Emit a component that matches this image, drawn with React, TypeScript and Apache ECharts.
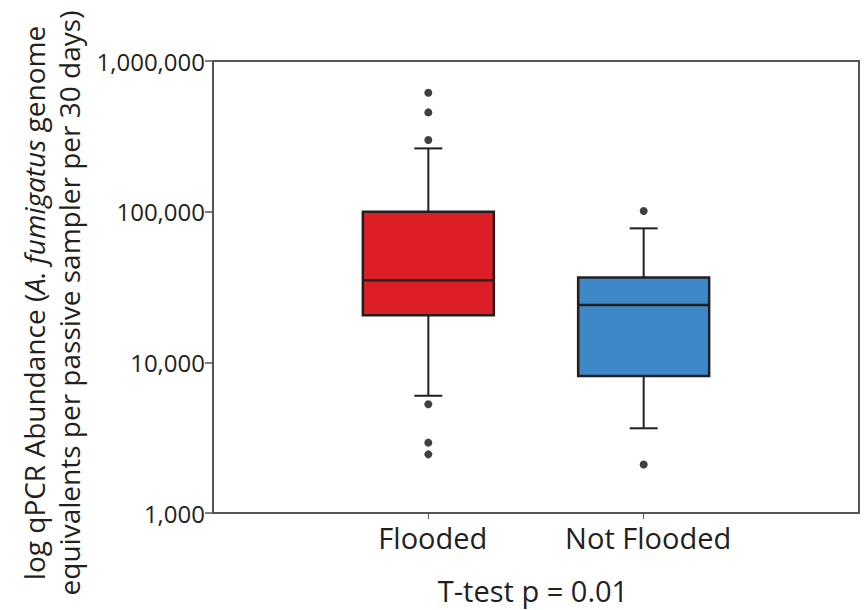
import React, { useEffect, useRef } from "react";
import * as echarts from "echarts";

const categories = ["", "Flooded", "Not Flooded", ""];
// [categoryIndex, min(whisker), Q1, median, Q3, max(whisker)]
const boxStats = [
  [1, 6000, 20500, 35000, 100000, 263000],
  [2, 3650, 8100, 24000, 36500, 77500],
];
const floodedOutliers = [616000, 456000, 299000, 5270, 2930, 2450];
const notFloodedOutliers = [101000, 2100];
const yTicks = [1000, 10000, 100000, 1000000];
const boxColors = ["#DC1F26", "#3F88C8"];

const FONT = "'Open Sans', sans-serif";
const TEXT = "#231f20";
const LINE = "#231f20";
const FRAME = "#555555";

export default function App() {
  const ref = useRef<HTMLDivElement>(null);
  useEffect(() => {
    if (!ref.current) return;
    const chart = echarts.init(ref.current, undefined, { renderer: "svg" });
    const outlierData = [
      ...floodedOutliers.map((v) => [1, v]),
      ...notFloodedOutliers.map((v) => [2, v]),
    ];
    chart.setOption({
      animation: false,
      grid: {
        left: 213,
        top: 61,
        right: 5,
        bottom: 97,
        show: true,
        borderColor: FRAME,
        borderWidth: 2,
        backgroundColor: "transparent",
      },
      xAxis: {
        type: "category",
        data: categories,
        boundaryGap: false,
        axisLine: { lineStyle: { color: FRAME, width: 2 } },
        axisTick: {
          length: 6,
          interval: (i: number) => i === 1 || i === 2,
          lineStyle: { color: FRAME, width: 1 },
        },
        axisLabel: {
          interval: 0,
          margin: 10,
          fontSize: 29,
          fontFamily: FONT,
          color: TEXT,
          padding: [0, 0, 0, 9],
        },
        splitLine: { show: false },
        name: "T-test p = 0.01",
        nameLocation: "middle",
        nameGap: 63,
        nameTextStyle: { fontSize: 29, fontFamily: FONT, color: TEXT, padding: [0, 6, 0, 0] },
      },
      yAxis: {
        type: "log",
        logBase: 10,
        min: yTicks[0],
        max: yTicks[yTicks.length - 1],
        axisLine: { show: true, lineStyle: { color: FRAME, width: 2 } },
        axisTick: { show: true, length: 8, lineStyle: { color: FRAME, width: 1.5 } },
        minorTick: { show: false },
        splitLine: { show: false },
        axisLabel: {
          margin: 8,
          fontSize: 24,
          fontFamily: FONT,
          color: TEXT,
          formatter: (v: number) => Math.round(v).toLocaleString("en-US"),
        },
      },
      graphic: [
        {
          type: "text",
          x: 51,
          y: 303,
          rotation: Math.PI / 2,
          style: {
            text:
              "log qPCR Abundance ({i|A. fumigatus} genome\nequivalents per passive sampler per 30 days)",
            fontSize: 28,
            fontFamily: FONT,
            fill: TEXT,
            align: "center",
            verticalAlign: "middle",
            lineHeight: 35,
            rich: {
              i: {
                fontStyle: "italic",
                fontSize: 28,
                fontFamily: FONT,
                fill: TEXT,
                lineHeight: 35,
              },
            },
          },
        },
      ],
      series: [
        {
          type: "custom",
          data: boxStats,
          encode: { x: 0, y: [1, 2, 3, 4, 5] },
          z: 2,
          renderItem: (params: any, api: any) => {
            const x = api.value(0);
            const pMin = api.coord([x, api.value(1)]);
            const pQ1 = api.coord([x, api.value(2)]);
            const pMed = api.coord([x, api.value(3)]);
            const pQ3 = api.coord([x, api.value(4)]);
            const pMax = api.coord([x, api.value(5)]);
            const cx = pMed[0];
            const halfBox = 65.5;
            const halfCap = 14;
            const lineStyle = { stroke: LINE, lineWidth: 2 };
            return {
              type: "group",
              children: [
                { type: "line", shape: { x1: cx, y1: pQ3[1], x2: cx, y2: pMax[1] }, style: lineStyle },
                { type: "line", shape: { x1: cx, y1: pQ1[1], x2: cx, y2: pMin[1] }, style: lineStyle },
                { type: "line", shape: { x1: cx - halfCap, y1: pMax[1], x2: cx + halfCap, y2: pMax[1] }, style: lineStyle },
                { type: "line", shape: { x1: cx - halfCap, y1: pMin[1], x2: cx + halfCap, y2: pMin[1] }, style: lineStyle },
                {
                  type: "rect",
                  shape: { x: cx - halfBox, y: pQ3[1], width: halfBox * 2, height: pQ1[1] - pQ3[1] },
                  style: { fill: boxColors[params.dataIndex], stroke: LINE, lineWidth: 2.5 },
                },
                { type: "line", shape: { x1: cx - halfBox, y1: pMed[1], x2: cx + halfBox, y2: pMed[1] }, style: { stroke: LINE, lineWidth: 2.5 } },
              ],
            };
          },
        },
        {
          type: "scatter",
          data: outlierData,
          symbol: "circle",
          symbolSize: 8,
          itemStyle: { color: "#111111" },
          z: 3,
        },
      ],
    });
    return () => chart.dispose();
  }, []);
  return <div ref={ref} style={{ width: 864, height: 610, position: "absolute", left: 0, top: 0 }} />;
}
